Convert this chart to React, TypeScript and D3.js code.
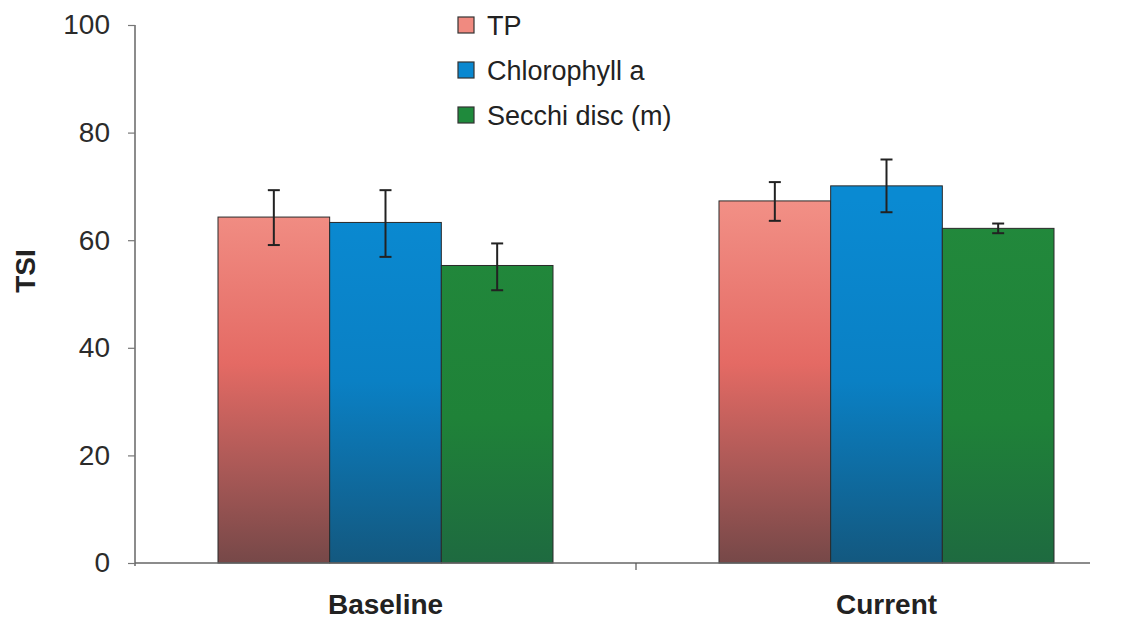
import React, { useEffect, useRef } from 'react';
import * as d3 from 'd3';

const categories = ['Baseline', 'Current'];
const seriesNames = ['TP', 'Chlorophyll a', 'Secchi disc (m)'];

const tpValues = [64.3, 67.3];
const tpLow = [59.1, 63.6];
const tpHigh = [69.3, 70.8];

const chlValues = [63.3, 70.1];
const chlLow = [56.9, 65.2];
const chlHigh = [69.3, 75.0];

const secchiValues = [55.3, 62.2];
const secchiLow = [50.7, 61.3];
const secchiHigh = [59.4, 63.1];

const yTicks = [0, 20, 40, 60, 80, 100];

interface SeriesData {
  name: string;
  id: string;
  values: number[];
  low: number[];
  high: number[];
  swatch: string;
  stops: [number, string][];
}

const SERIES: SeriesData[] = [
  {
    name: seriesNames[0],
    id: 'tp',
    values: tpValues,
    low: tpLow,
    high: tpHigh,
    swatch: '#f08a80',
    stops: [[0, '#f29086'], [0.45, '#e46a64'], [0.75, '#a85856'], [1, '#764848']]
  },
  {
    name: seriesNames[1],
    id: 'chl',
    values: chlValues,
    low: chlLow,
    high: chlHigh,
    swatch: '#0a88d0',
    stops: [[0, '#0a8ad2'], [0.5, '#0a80c4'], [1, '#13587f']]
  },
  {
    name: seriesNames[2],
    id: 'sec',
    values: secchiValues,
    low: secchiLow,
    high: secchiHigh,
    swatch: '#1f8a3c',
    stops: [[0, '#22893c'], [0.6, '#1f8238'], [1, '#1e6a40']]
  }
];

const App: React.FC = () => {
  const svgRef = useRef<SVGSVGElement>(null);

  useEffect(() => {
    document.body.style.margin = '0';
    if (!svgRef.current) return;

    const width = 1127;
    const height = 623;
    const font = 'Liberation Sans, Arial, sans-serif';

    const svg = d3.select(svgRef.current);
    svg.selectAll('*').remove();
    svg.attr('width', width).attr('height', height).attr('viewBox', `0 0 ${width} ${height}`);

    svg.append('rect').attr('width', width).attr('height', height).attr('fill', '#ffffff');

    const y = d3.scaleLinear().domain([0, 100]).range([563, 25]);
    const x = d3.scaleBand<string>().domain(categories).range([135, 1137]).padding(0);
    const xInner = d3.scaleBand<string>().domain(seriesNames).range([83, 418]).padding(0);

    const defs = svg.append('defs');
    SERIES.forEach((s) => {
      const grad = defs
        .append('linearGradient')
        .attr('id', `grad-${s.id}`)
        .attr('gradientUnits', 'userSpaceOnUse')
        .attr('x1', 0)
        .attr('x2', 0)
        .attr('y1', 200)
        .attr('y2', y(0));
      s.stops.forEach(([o, c]) => {
        grad.append('stop').attr('offset', o).attr('stop-color', c);
      });
    });

    // bars
    const bars = svg.append('g');
    SERIES.forEach((s) => {
      categories.forEach((cat, i) => {
        const x0 = (x(cat) ?? 0) + (xInner(s.name) ?? 0);
        bars
          .append('rect')
          .attr('x', x0)
          .attr('y', y(s.values[i]))
          .attr('width', xInner.bandwidth())
          .attr('height', y(0) - y(s.values[i]))
          .attr('fill', `url(#grad-${s.id})`)
          .attr('stroke', '#2a2a2a')
          .attr('stroke-width', 1);
      });
    });

    // error bars
    const err = svg.append('g').attr('stroke', '#222').attr('stroke-width', 2);
    SERIES.forEach((s) => {
      categories.forEach((cat, i) => {
        const cx = (x(cat) ?? 0) + (xInner(s.name) ?? 0) + xInner.bandwidth() / 2;
        err.append('line').attr('x1', cx).attr('x2', cx).attr('y1', y(s.high[i])).attr('y2', y(s.low[i]));
        err.append('line').attr('x1', cx - 6).attr('x2', cx + 6).attr('y1', y(s.high[i])).attr('y2', y(s.high[i]));
        err.append('line').attr('x1', cx - 6).attr('x2', cx + 6).attr('y1', y(s.low[i])).attr('y2', y(s.low[i]));
      });
    });

    // y axis
    const yAxis = svg
      .append('g')
      .attr('transform', 'translate(135,0)')
      .call(d3.axisLeft(y).tickValues(yTicks).tickSize(7).tickPadding(18));
    yAxis.select('.domain').attr('stroke', '#666').attr('stroke-width', 1.5).attr('d', `M0,${y(100)}V${y(0) + 3}`);
    yAxis.selectAll('.tick line').attr('stroke', '#777').attr('stroke-width', 1.2);
    yAxis
      .selectAll('.tick text')
      .attr('fill', '#2b2b2b')
      .attr('font-size', 28)
      .attr('font-family', font);

    // x axis
    const xAxis = svg
      .append('g')
      .attr('transform', `translate(0,${y(0)})`)
      .call(d3.axisBottom(x).tickSize(0).tickPadding(31));
    xAxis.select('.domain').attr('stroke', '#666').attr('stroke-width', 1.5).attr('d', 'M135,0H1090');
    xAxis
      .selectAll('.tick text')
      .attr('fill', '#222')
      .attr('font-size', 28)
      .attr('font-weight', 'bold')
      .attr('font-family', font);
    xAxis
      .append('line')
      .attr('x1', x('Current') ?? 0)
      .attr('x2', x('Current') ?? 0)
      .attr('y1', 0)
      .attr('y2', 7)
      .attr('stroke', '#555')
      .attr('stroke-width', 1.2);

    // y label
    svg
      .append('text')
      .attr('transform', `translate(35, ${271}) rotate(-90)`)
      .attr('text-anchor', 'middle')
      .attr('fill', '#222')
      .attr('font-size', 28)
      .attr('font-weight', 'bold')
      .attr('font-family', font)
      .text('TSI');

    // legend
    const legend = svg.append('g').attr('transform', 'translate(458, 17)');
    SERIES.forEach((s, i) => {
      const g = legend.append('g').attr('transform', `translate(0, ${i * 45})`);
      g.append('rect')
        .attr('width', 16)
        .attr('height', 16)
        .attr('fill', s.swatch)
        .attr('stroke', '#333')
        .attr('stroke-width', 1.2);
      g.append('text')
        .attr('x', 29)
        .attr('y', 18)
        .attr('fill', '#222')
        .attr('font-size', 27)
        .attr('font-family', font)
        .text(s.name);
    });
  }, []);

  return <svg ref={svgRef} style={{ display: 'block' }} />;
};

export default App;
